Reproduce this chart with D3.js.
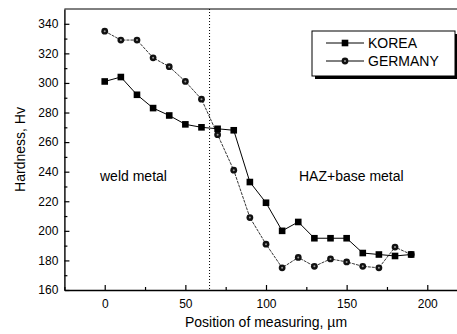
<!DOCTYPE html>
<html>
<head>
<meta charset="utf-8">
<script src="https://cdn.jsdelivr.net/npm/d3@7"></script>
<style>
  body { margin: 0; background: #fff; }
  text { font-family: "Liberation Sans", Arial, sans-serif; fill: #000; }
</style>
</head>
<body>
<svg id="chart" width="457" height="334"></svg>
<script>
//data
var positions = [0, 10, 20, 30, 40, 50, 60, 70, 80, 90, 100, 110, 120, 130, 140, 150, 160, 170, 180, 190];
var koreaHv = [301, 304, 292, 283, 278, 272, 270, 269, 268, 233, 219, 200, 206, 195, 195, 195, 185, 184, 183, 184];
var germanyHv = [335, 329, 329, 317, 311, 301, 289, 265, 241, 209, 191, 175, 182, 176, 181, 179, 176, 175, 189, 184];
var seriesNames = ["KOREA", "GERMANY"];
var yTicks = [160, 180, 200, 220, 240, 260, 280, 300, 320, 340];
var xTicks = [0, 50, 100, 150, 200];
var boundary = 65; //weld / HAZ boundary
var regionLabels = ["weld metal", "HAZ+base metal"];

var svg = d3.select("#chart");

//plot area (right side runs off the picture, as in the scan)
//note: "top" is taken by window.top, so use plot* names
var plotLeft = 64.4, plotRight = 467.6, plotTop = 9, plotBottom = 290;

var x = d3.scaleLinear().domain([-25, 225]).range([plotLeft, plotRight]);
var y = d3.scaleLinear().domain([160, 350]).range([plotBottom, plotTop]);

//top frame line
svg.append("line")
  .attr("x1", plotLeft).attr("x2", 457)
  .attr("y1", plotTop).attr("y2", plotTop)
  .attr("stroke", "#000").attr("stroke-width", 1);

//minor ticks
var xMinor = d3.range(-25, 226, 25).filter(function(d){ return xTicks.indexOf(d) < 0; });
var yMinor = d3.range(170, 350, 20);

svg.append("g")
  .attr("transform", "translate(0," + plotBottom + ")")
  .call(d3.axisBottom(x).tickValues(xMinor).tickSizeInner(-3).tickSizeOuter(0).tickFormat(""))
  .call(function(g){ g.select(".domain").remove(); });

svg.append("g")
  .attr("transform", "translate(" + plotLeft + ",0)")
  .call(d3.axisLeft(y).tickValues(yMinor).tickSizeInner(-3).tickSizeOuter(0).tickFormat(""))
  .call(function(g){ g.select(".domain").remove(); });

//major axes
var xAxis = svg.append("g")
  .attr("transform", "translate(0," + plotBottom + ")")
  .call(d3.axisBottom(x).tickValues(xTicks).tickSizeInner(-5).tickSizeOuter(0).tickPadding(9));

var yAxis = svg.append("g")
  .attr("transform", "translate(" + plotLeft + ",0)")
  .call(d3.axisLeft(y).tickValues(yTicks).tickSizeInner(-5).tickSizeOuter(0).tickPadding(6));

svg.selectAll(".tick line").attr("stroke", "#000").attr("stroke-width", 1.2);
svg.selectAll(".domain").attr("stroke", "#000").attr("stroke-width", 1.4);
svg.selectAll(".tick text")
  .style("font-size", "12px")
  .style("font-family", "'Liberation Sans', Arial, sans-serif");

//axis titles
svg.append("text")
  .attr("x", (plotLeft + plotRight) / 2)
  .attr("y", 327)
  .attr("text-anchor", "middle")
  .style("font-size", "14px")
  .text("Position of measuring, \u00b5m");

svg.append("text")
  .attr("transform", "translate(25," + ((plotTop + plotBottom) / 2) + ") rotate(-90)")
  .attr("text-anchor", "middle")
  .style("font-size", "14px")
  .text("Hardness, Hv");

//boundary line
svg.append("line")
  .attr("x1", x(boundary)).attr("x2", x(boundary))
  .attr("y1", plotTop).attr("y2", plotBottom)
  .attr("stroke", "#000").attr("stroke-width", 1)
  .attr("stroke-dasharray", "1,2");

//region labels
svg.append("text")
  .attr("x", 100).attr("y", 181)
  .style("font-size", "14px")
  .text(regionLabels[0]);
svg.append("text")
  .attr("x", 299).attr("y", 181)
  .style("font-size", "14px")
  .text(regionLabels[1]);

//series lines
var line = d3.line()
  .x(function(d){ return x(d[0]); })
  .y(function(d){ return y(d[1]); });

var korea = positions.map(function(p, i){ return [p, koreaHv[i]]; });
var germany = positions.map(function(p, i){ return [p, germanyHv[i]]; });

svg.append("path")
  .datum(germany)
  .attr("d", line)
  .attr("fill", "none")
  .attr("stroke", "#000")
  .attr("stroke-width", 0.8)
  .attr("stroke-dasharray", "3,1");

svg.append("path")
  .datum(korea)
  .attr("d", line)
  .attr("fill", "none")
  .attr("stroke", "#000")
  .attr("stroke-width", 1);

//markers
function square(g, cx, cy){
  g.append("rect")
    .attr("x", cx - 3.3).attr("y", cy - 3.3)
    .attr("width", 6.6).attr("height", 6.6)
    .attr("fill", "#000");
}
function circle(g, cx, cy){
  g.append("circle")
    .attr("cx", cx).attr("cy", cy).attr("r", 3.4)
    .attr("fill", "#111");
  g.append("circle")
    .attr("cx", cx).attr("cy", cy).attr("r", 1)
    .attr("fill", "#999");
}

var markers = svg.append("g");
germany.forEach(function(d){ circle(markers, x(d[0]), y(d[1])); });
korea.forEach(function(d){ square(markers, x(d[0]), y(d[1])); });

//legend
var legend = svg.append("g");
legend.append("rect")
  .attr("x", 315).attr("y", 34).attr("width", 143).attr("height", 45)
  .attr("fill", "#000");
legend.append("rect")
  .attr("x", 312).attr("y", 31).attr("width", 143).attr("height", 45)
  .attr("fill", "#fff").attr("stroke", "#000").attr("stroke-width", 1);

seriesNames.forEach(function(name, i){
  var ly = 43 + i * 18;
  legend.append("line")
    .attr("x1", 326).attr("x2", 364)
    .attr("y1", ly).attr("y2", ly)
    .attr("stroke", "#000").attr("stroke-width", 1);
  if (i == 0) square(legend, 345, ly); else circle(legend, 345, ly);
  legend.append("text")
    .attr("x", 368).attr("y", ly + 5)
    .style("font-size", "14px")
    .text(name);
});
</script>
</body>
</html>
